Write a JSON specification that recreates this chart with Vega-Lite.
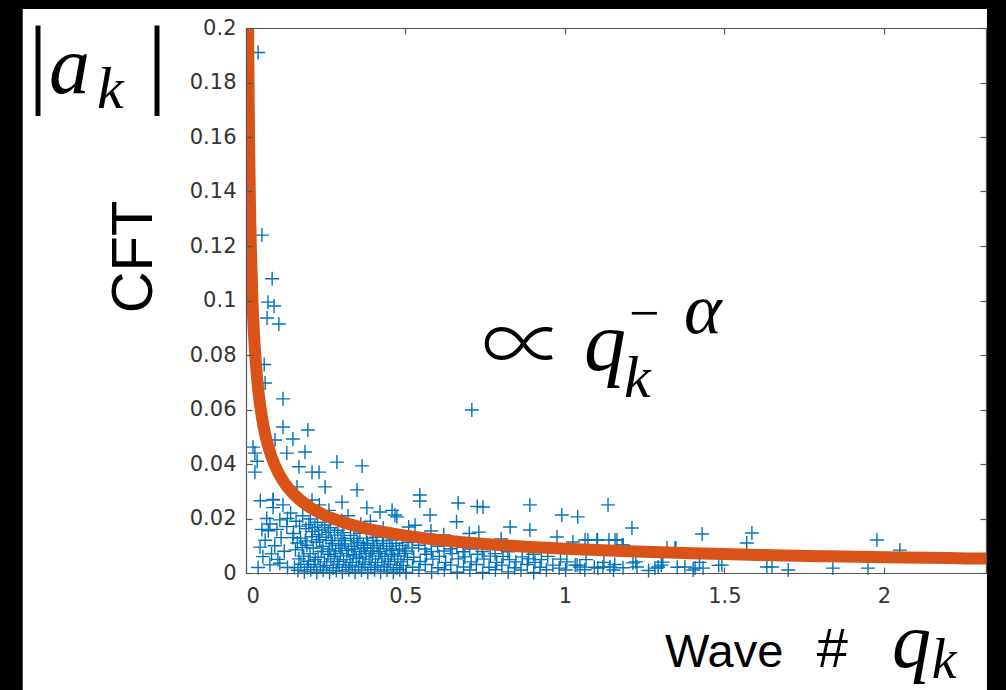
{
"$schema": "https://vega.github.io/schema/vega-lite/v6.json",
"width": 740, "height": 545,
"autosize": "none",
"padding": {"left": 246, "top": 28, "right": 20, "bottom": 117},
"background": "black",
"data": {"values": [{}]},
"config": {
 "view": {"stroke": null},
 "axis": {"grid": false, "domainColor": "#555555", "tickColor": "#555555", "labelColor": "#333333", "labelFont": "DejaVu Sans", "labelFontSize": 21, "tickSize": -6, "domainWidth": 1.2, "tickWidth": 1.2}
},
"datasets": {
 "pts": [
 {"q":0.038,"a":0.191},{"q":0.050,"a":0.124},{"q":0.082,"a":0.108},{"q":0.069,"a":0.0994},{"q":0.088,"a":0.098},{"q":0.066,"a":0.0936},{"q":0.103,"a":0.0914},{"q":0.057,"a":0.0765},{"q":0.06,"a":0.0697},{"q":0.116,"a":0.0639},{"q":0.708,"a":0.0598},
 {"q":0.022,"a":0.0462},{"q":0.028,"a":0.044},{"q":0.116,"a":0.0536},{"q":0.194,"a":0.0525},{"q":0.147,"a":0.0492},{"q":0.091,"a":0.0488},{"q":0.128,"a":0.044},{"q":0.185,"a":0.0444},{"q":0.166,"a":0.039},{"q":0.207,"a":0.037},{"q":0.229,"a":0.037},{"q":0.285,"a":0.0407},{"q":0.364,"a":0.0393},{"q":0.348,"a":0.0305},{"q":0.248,"a":0.0316},{"q":0.16,"a":0.0316},{"q":0.085,"a":0.0268},{"q":0.207,"a":0.0268},{"q":0.301,"a":0.026},{"q":0.379,"a":0.0239},{"q":0.42,"a":0.0224},{"q":0.458,"a":0.023},{"q":0.473,"a":0.0206},
 {"q":0.545,"a":0.0286},{"q":0.545,"a":0.0264},{"q":0.665,"a":0.0257},{"q":0.743,"a":0.0242},{"q":0.725,"a":0.0244},{"q":0.89,"a":0.025},{"q":0.99,"a":0.0213},{"q":1.04,"a":0.0206},{"q":1.135,"a":0.025},{"q":0.577,"a":0.0213},{"q":0.467,"a":0.0213},{"q":0.828,"a":0.0169},{"q":0.89,"a":0.0158},{"q":0.975,"a":0.0132},{"q":1.072,"a":0.0121},{"q":1.163,"a":0.0121},
 {"q":1.21,"a":0.0165},{"q":1.157,"a":0.0121},{"q":1.43,"a":0.0143},{"q":1.586,"a":0.0147},{"q":1.57,"a":0.011},{"q":1.348,"a":0.0092},{"q":1.978,"a":0.0121},{"q":2.05,"a":0.0084},{"q":1.649,"a":0.0022},{"q":1.70,"a":0.0011},{"q":1.84,"a":0.0018},{"q":1.95,"a":0.0018},{"q":1.102,"a":0.0121},{"q":1.138,"a":0.0121},{"q":1.183,"a":0.0102},{"q":1.32,"a":0.0092},
 {"q":0.66,"a":0.0188},{"q":0.51,"a":0.0169},{"q":0.58,"a":0.0154},{"q":0.73,"a":0.015},{"q":0.80,"a":0.0125},{"q":0.62,"a":0.014},{"q":0.43,"a":0.0165},{"q":0.36,"a":0.018},{"q":0.32,"a":0.021},{"q":0.26,"a":0.023},{"q":0.23,"a":0.025},{"q":0.30,"a":0.0193},{"q":0.39,"a":0.019},{"q":0.53,"a":0.0175},{"q":0.70,"a":0.0145},
 {"q":0.028,"a":0.037},{"q":0.035,"a":0.041},{"q":0.085,"a":0.027},{"q":0.05,"a":0.016},{"q":0.044,"a":0.0095},{"q":0.053,"a":0.006},{"q":0.038,"a":0.002},{"q":0.075,"a":0.003},{"q":0.106,"a":0.0036},{"q":0.097,"a":0.016},{"q":0.106,"a":0.0195},{"q":0.13,"a":0.02},{"q":0.075,"a":0.018},{"q":0.116,"a":0.025},{"q":0.085,"a":0.024},{"q":0.128,"a":0.017},{"q":0.147,"a":0.013},{"q":0.06,"a":0.012},{"q":0.09,"a":0.01},{"q":0.12,"a":0.008},{"q":0.1,"a":0.005},{"q":0.065,"a":0.02},{"q":0.14,"a":0.022},{"q":0.11,"a":0.013},{"q":0.08,"a":0.007},{"q":0.13,"a":0.002},{"q":0.045,"a":0.0265},{"q":0.07,"a":0.0155},
 {"q":1.038,"a":0.0029},{"q":1.047,"a":0.0022},{"q":1.103,"a":0.0018},{"q":1.119,"a":0.0022},{"q":1.141,"a":0.0022},{"q":1.213,"a":0.0037},{"q":1.226,"a":0.0022},{"q":1.282,"a":0.0018},{"q":1.292,"a":0.0022},{"q":1.307,"a":0.004},{"q":1.345,"a":0.0092},{"q":1.376,"a":0.0022},{"q":1.408,"a":0.0018},{"q":1.433,"a":0.0018},{"q":1.492,"a":0.0029},{"q":1.633,"a":0.0022},{"q":1.025,"a":0.0114},{"q":1.063,"a":0.0121},{"q":1.1,"a":0.0121},{"q":1.179,"a":0.0103},
 {"q":0.152,"a":0.002},{"q":0.155,"a":0.0085},{"q":0.149,"a":0.0145},{"q":0.157,"a":0.019},
 {"q":0.163,"a":0.001},{"q":0.166,"a":0.0052},{"q":0.161,"a":0.011},{"q":0.168,"a":0.0172},
 {"q":0.172,"a":0.0032},{"q":0.176,"a":0.0093},{"q":0.171,"a":0.0128},{"q":0.178,"a":0.021},
 {"q":0.183,"a":0.0004},{"q":0.181,"a":0.0062},{"q":0.186,"a":0.0118},{"q":0.188,"a":0.0163},
 {"q":0.192,"a":0.0021},{"q":0.196,"a":0.0043},{"q":0.191,"a":0.0102},{"q":0.197,"a":0.0178},
 {"q":0.203,"a":0.0012},{"q":0.201,"a":0.0071},{"q":0.206,"a":0.0133},{"q":0.208,"a":0.0152},{"q":0.202,"a":0.0198},
 {"q":0.213,"a":0.0031},{"q":0.217,"a":0.0049},{"q":0.211,"a":0.0092},{"q":0.216,"a":0.0168},
 {"q":0.222,"a":0.0003},{"q":0.226,"a":0.0058},{"q":0.221,"a":0.0113},{"q":0.228,"a":0.0141},{"q":0.224,"a":0.0186},
 {"q":0.233,"a":0.0022},{"q":0.236,"a":0.0079},{"q":0.231,"a":0.0122},{"q":0.238,"a":0.0158},
 {"q":0.242,"a":0.0011},{"q":0.246,"a":0.0041},{"q":0.241,"a":0.0098},{"q":0.247,"a":0.0176},
 {"q":0.253,"a":0.0028},{"q":0.257,"a":0.0069},{"q":0.251,"a":0.0131},{"q":0.258,"a":0.0149},
 {"q":0.262,"a":0.0002},{"q":0.266,"a":0.0052},{"q":0.261,"a":0.0088},{"q":0.267,"a":0.0119},{"q":0.264,"a":0.0166},
 {"q":0.273,"a":0.0019},{"q":0.276,"a":0.0061},{"q":0.271,"a":0.0108},{"q":0.278,"a":0.0139},
 {"q":0.283,"a":0.0009},{"q":0.287,"a":0.0042},{"q":0.281,"a":0.0081},{"q":0.288,"a":0.0157},
 {"q":0.292,"a":0.0031},{"q":0.296,"a":0.0072},{"q":0.291,"a":0.0101},{"q":0.298,"a":0.0128},
 {"q":0.302,"a":0.0004},{"q":0.306,"a":0.0049},{"q":0.301,"a":0.0091},{"q":0.308,"a":0.0119},{"q":0.304,"a":0.0148},
 {"q":0.313,"a":0.0021},{"q":0.316,"a":0.0063},{"q":0.311,"a":0.0107},
 {"q":0.322,"a":0.0012},{"q":0.326,"a":0.0039},{"q":0.321,"a":0.0082},{"q":0.328,"a":0.0138},
 {"q":0.333,"a":0.0029},{"q":0.336,"a":0.0068},{"q":0.331,"a":0.0098},{"q":0.338,"a":0.0127},
 {"q":0.342,"a":0.0003},{"q":0.346,"a":0.0053},{"q":0.341,"a":0.0088},{"q":0.348,"a":0.0118},
 {"q":0.353,"a":0.0022},{"q":0.356,"a":0.0059},{"q":0.351,"a":0.0111},{"q":0.357,"a":0.0146},
 {"q":0.362,"a":0.0011},{"q":0.366,"a":0.0041},{"q":0.361,"a":0.0079},{"q":0.368,"a":0.0102},
 {"q":0.373,"a":0.0032},{"q":0.376,"a":0.0071},{"q":0.371,"a":0.0092},{"q":0.378,"a":0.0128},
 {"q":0.382,"a":0.0002},{"q":0.386,"a":0.0051},{"q":0.381,"a":0.0109},
 {"q":0.392,"a":0.0021},{"q":0.396,"a":0.0062},{"q":0.391,"a":0.0081},{"q":0.398,"a":0.0119},
 {"q":0.403,"a":0.0012},{"q":0.406,"a":0.0039},{"q":0.401,"a":0.0092},{"q":0.408,"a":0.0131},
 {"q":0.413,"a":0.0029},{"q":0.416,"a":0.0071},{"q":0.411,"a":0.0101},
 {"q":0.422,"a":0.0004},{"q":0.426,"a":0.0052},{"q":0.421,"a":0.0079},{"q":0.428,"a":0.0118},
 {"q":0.433,"a":0.0022},{"q":0.436,"a":0.0061},{"q":0.431,"a":0.0108},
 {"q":0.442,"a":0.0011},{"q":0.446,"a":0.0042},{"q":0.441,"a":0.0089},
 {"q":0.453,"a":0.0031},{"q":0.456,"a":0.0069},{"q":0.451,"a":0.0098},{"q":0.458,"a":0.0121},
 {"q":0.462,"a":0.0003},{"q":0.466,"a":0.0051},{"q":0.461,"a":0.0082},
 {"q":0.473,"a":0.0019},{"q":0.476,"a":0.0062},{"q":0.471,"a":0.0109},
 {"q":0.482,"a":0.0012},{"q":0.486,"a":0.0041},{"q":0.481,"a":0.0088},
 {"q":0.493,"a":0.0028},{"q":0.496,"a":0.0072},{"q":0.491,"a":0.0101},
 {"q":0.502,"a":0.0002},{"q":0.506,"a":0.0049},{"q":0.501,"a":0.0081},{"q":0.508,"a":0.0112},
 {"q":0.522,"a":0.0021},{"q":0.526,"a":0.0058},{"q":0.521,"a":0.0092},
 {"q":0.542,"a":0.0011},{"q":0.546,"a":0.0042},{"q":0.541,"a":0.0102},
 {"q":0.562,"a":0.0031},{"q":0.566,"a":0.0069},{"q":0.561,"a":0.0088},
 {"q":0.582,"a":0.0004},{"q":0.586,"a":0.0051},{"q":0.581,"a":0.0079},
 {"q":0.602,"a":0.0019},{"q":0.606,"a":0.0061},{"q":0.601,"a":0.0098},
 {"q":0.622,"a":0.0012},{"q":0.626,"a":0.0039},{"q":0.621,"a":0.0081},
 {"q":0.642,"a":0.0029},{"q":0.646,"a":0.0071},{"q":0.641,"a":0.0089},
 {"q":0.662,"a":0.0003},{"q":0.666,"a":0.0052},{"q":0.661,"a":0.0099},
 {"q":0.682,"a":0.0022},{"q":0.686,"a":0.0059},{"q":0.681,"a":0.0078},
 {"q":0.702,"a":0.0011},{"q":0.706,"a":0.0041},{"q":0.701,"a":0.0088},
 {"q":0.722,"a":0.0031},{"q":0.726,"a":0.0069},
 {"q":0.742,"a":0.0002},{"q":0.746,"a":0.0051},{"q":0.741,"a":0.0079},
 {"q":0.762,"a":0.0021},{"q":0.766,"a":0.0062},
 {"q":0.782,"a":0.0012},{"q":0.786,"a":0.0039},{"q":0.781,"a":0.0071},
 {"q":0.802,"a":0.0029},{"q":0.806,"a":0.0061},
 {"q":0.822,"a":0.0004},{"q":0.826,"a":0.0049},{"q":0.821,"a":0.0078},
 {"q":0.842,"a":0.0019},{"q":0.846,"a":0.0041},
 {"q":0.862,"a":0.0011},{"q":0.866,"a":0.0059},
 {"q":0.882,"a":0.0031},{"q":0.886,"a":0.0052},
 {"q":0.902,"a":0.0002},{"q":0.906,"a":0.0039},{"q":0.901,"a":0.0069},
 {"q":0.922,"a":0.0021},{"q":0.926,"a":0.0049},
 {"q":0.942,"a":0.0012},{"q":0.946,"a":0.0061},
 {"q":0.962,"a":0.0029},
 {"q":0.982,"a":0.0018},{"q":0.986,"a":0.0051},
 {"q":1.002,"a":0.0011},{"q":1.006,"a":0.0041},
 {"q":1.032,"a":0.0029},
 {"q":1.062,"a":0.0012},{"q":1.066,"a":0.0049},
 {"q":1.092,"a":0.0021},
 {"q":1.122,"a":0.0039},
 {"q":1.152,"a":0.0011},{"q":1.156,"a":0.0031},
 {"q":1.182,"a":0.0019},
 {"q":1.222,"a":0.0041},
 {"q":1.262,"a":0.0009},
 {"q":1.302,"a":0.0029},
 {"q":1.352,"a":0.0021},
 {"q":1.402,"a":0.0011},
 {"q":1.422,"a":0.0039},
 {"q":1.482,"a":0.0028}
 ],
 "curve": [
 {"q":0.0062,"a":0.208},{"q":0.007,"a":0.193},{"q":0.008,"a":0.1776},{"q":0.01,"a":0.1547},{"q":0.0125,"a":0.1347},{"q":0.015,"a":0.1203},{"q":0.02,"a":0.1006},{"q":0.025,"a":0.0877},{"q":0.03,"a":0.0783},{"q":0.04,"a":0.0655},{"q":0.05,"a":0.057},{"q":0.06,"a":0.0509},{"q":0.08,"a":0.0426},{"q":0.1,"a":0.0371},{"q":0.125,"a":0.0323},{"q":0.15,"a":0.0289},{"q":0.2,"a":0.0241},{"q":0.25,"a":0.021},{"q":0.3,"a":0.0188},{"q":0.4,"a":0.0157},{"q":0.5,"a":0.0137},{"q":0.6,"a":0.0122},{"q":0.7,"a":0.0111},{"q":0.85,"a":0.00984},{"q":1.0,"a":0.0089},{"q":1.2,"a":0.00795},{"q":1.4,"a":0.00722},{"q":1.6,"a":0.00665},{"q":1.8,"a":0.00618},{"q":2.0,"a":0.00579},{"q":2.2,"a":0.00546},{"q":2.32,"a":0.00528}
 ]
},
"layer": [
 {
  "mark": {"type": "rect", "color": "white"},
  "encoding": {
   "x": {"datum": -0.7, "type": "quantitative", "scale": {"domain": [0, 2.32], "nice": false, "zero": false},
         "axis": {"orient": "bottom", "zindex": 1, "values": [0, 0.5, 1, 1.5, 2], "format": "~g", "title": null, "labelPadding": 18}},
   "x2": {"datum": 2.323},
   "y": {"datum": -0.05, "type": "quantitative", "scale": {"domain": [0, 0.2], "nice": false, "zero": false},
         "axis": {"orient": "left", "zindex": 1, "values": [0,0.02,0.04,0.06,0.08,0.1,0.12,0.14,0.16,0.18,0.2], "format": "~g", "title": null, "labelPadding": 16}},
   "y2": {"datum": 0.207}
  }
 },
 {
  "data": {"name": "pts"},
  "mark": {"type": "point", "shape": "M-1,0L1,0M0,-1L0,1", "filled": false, "stroke": "#0072BD", "strokeWidth": 1.4, "size": 196, "opacity": 1},
  "encoding": {
   "x": {"field": "q", "type": "quantitative", "axis": {"orient": "top", "zindex": 1, "values": [0, 0.5, 1, 1.5, 2], "labels": false, "title": null}},
   "y": {"field": "a", "type": "quantitative", "axis": {"orient": "right", "zindex": 1, "values": [0,0.02,0.04,0.06,0.08,0.1,0.12,0.14,0.16,0.18,0.2], "labels": false, "title": null}}
  }
 },
 {
  "data": {"name": "curve"},
  "mark": {"type": "line", "color": "#D95319", "strokeWidth": 12, "clip": true, "interpolate": "monotone"},
  "encoding": {
   "x": {"field": "q", "type": "quantitative", "axis": null},
   "y": {"field": "a", "type": "quantitative", "axis": null}
  }
 },
 {"mark": {"type": "text", "text": "|", "font": "Liberation Serif", "fontSize": 100, "align": "center", "baseline": "middle", "color": "black"},
  "encoding": {"x": {"datum": -0.652, "axis": null}, "y": {"datum": 0.1866, "axis": null}}},
 {"mark": {"type": "text", "text": "|", "font": "Liberation Serif", "fontSize": 100, "align": "center", "baseline": "middle", "color": "black"},
  "encoding": {"x": {"datum": -0.279, "axis": null}, "y": {"datum": 0.1866, "axis": null}}},
 {"mark": {"type": "text", "text": "a", "font": "Liberation Serif", "fontStyle": "italic", "fontSize": 82, "align": "left", "baseline": "alphabetic", "color": "black"},
  "encoding": {"x": {"datum": -0.618, "axis": null}, "y": {"datum": 0.1761, "axis": null}}},
 {"mark": {"type": "text", "text": "k", "font": "Liberation Serif", "fontStyle": "italic", "fontSize": 60, "align": "left", "baseline": "alphabetic", "color": "black"},
  "encoding": {"x": {"datum": -0.467, "axis": null}, "y": {"datum": 0.1705, "axis": null}}},
 {"mark": {"type": "text", "text": "CFT", "font": "Liberation Sans", "fontSize": 58, "angle": 270, "align": "center", "baseline": "alphabetic", "color": "black"},
  "encoding": {"x": {"datum": -0.2947, "axis": null}, "y": {"datum": 0.116, "axis": null}}},
 {"mark": {"type": "text", "text": "∝", "font": "Noto Sans CJK JP", "fontWeight": 300, "fontSize": 84, "align": "center", "baseline": "alphabetic", "color": "black"},
  "encoding": {"x": {"datum": 0.87, "axis": null}, "y": {"datum": 0.0725, "axis": null}}},
 {"mark": {"type": "text", "text": "q", "font": "Liberation Serif", "fontStyle": "italic", "fontSize": 84, "align": "left", "baseline": "alphabetic", "color": "black"},
  "encoding": {"x": {"datum": 1.06, "axis": null}, "y": {"datum": 0.0745, "axis": null}}},
 {"mark": {"type": "text", "text": "k", "font": "Liberation Serif", "fontStyle": "italic", "fontSize": 60, "align": "left", "baseline": "alphabetic", "color": "black"},
  "encoding": {"x": {"datum": 1.185, "axis": null}, "y": {"datum": 0.0646, "axis": null}}},
 {"mark": {"type": "text", "text": "−", "font": "Liberation Serif", "fontSize": 54, "align": "left", "baseline": "alphabetic", "color": "black"},
  "encoding": {"x": {"datum": 1.201, "axis": null}, "y": {"datum": 0.0888, "axis": null}}},
 {"mark": {"type": "text", "text": "α", "font": "Liberation Serif", "fontStyle": "italic", "fontSize": 72, "align": "left", "baseline": "alphabetic", "color": "black"},
  "encoding": {"x": {"datum": 1.373, "axis": null}, "y": {"datum": 0.0881, "axis": null}}},
 {"mark": {"type": "text", "text": "Wave", "font": "Liberation Sans", "fontSize": 47, "align": "left", "baseline": "alphabetic", "color": "black"},
  "encoding": {"x": {"datum": 1.3136, "axis": null}, "y": {"datum": -0.0345, "axis": null}}},
 {"mark": {"type": "text", "text": "#", "font": "Liberation Sans", "fontSize": 56, "align": "left", "baseline": "alphabetic", "color": "black"},
  "encoding": {"x": {"datum": 1.789, "axis": null}, "y": {"datum": -0.0345, "axis": null}}},
 {"mark": {"type": "text", "text": "q", "font": "Liberation Serif", "fontStyle": "italic", "fontSize": 78, "align": "left", "baseline": "alphabetic", "color": "black"},
  "encoding": {"x": {"datum": 2.025, "axis": null}, "y": {"datum": -0.0345, "axis": null}}},
 {"mark": {"type": "text", "text": "k", "font": "Liberation Serif", "fontStyle": "italic", "fontSize": 56, "align": "left", "baseline": "alphabetic", "color": "black"},
  "encoding": {"x": {"datum": 2.15, "axis": null}, "y": {"datum": -0.0385, "axis": null}}}
],
"resolve": {"axis": {"x": "independent", "y": "independent"}}
}
